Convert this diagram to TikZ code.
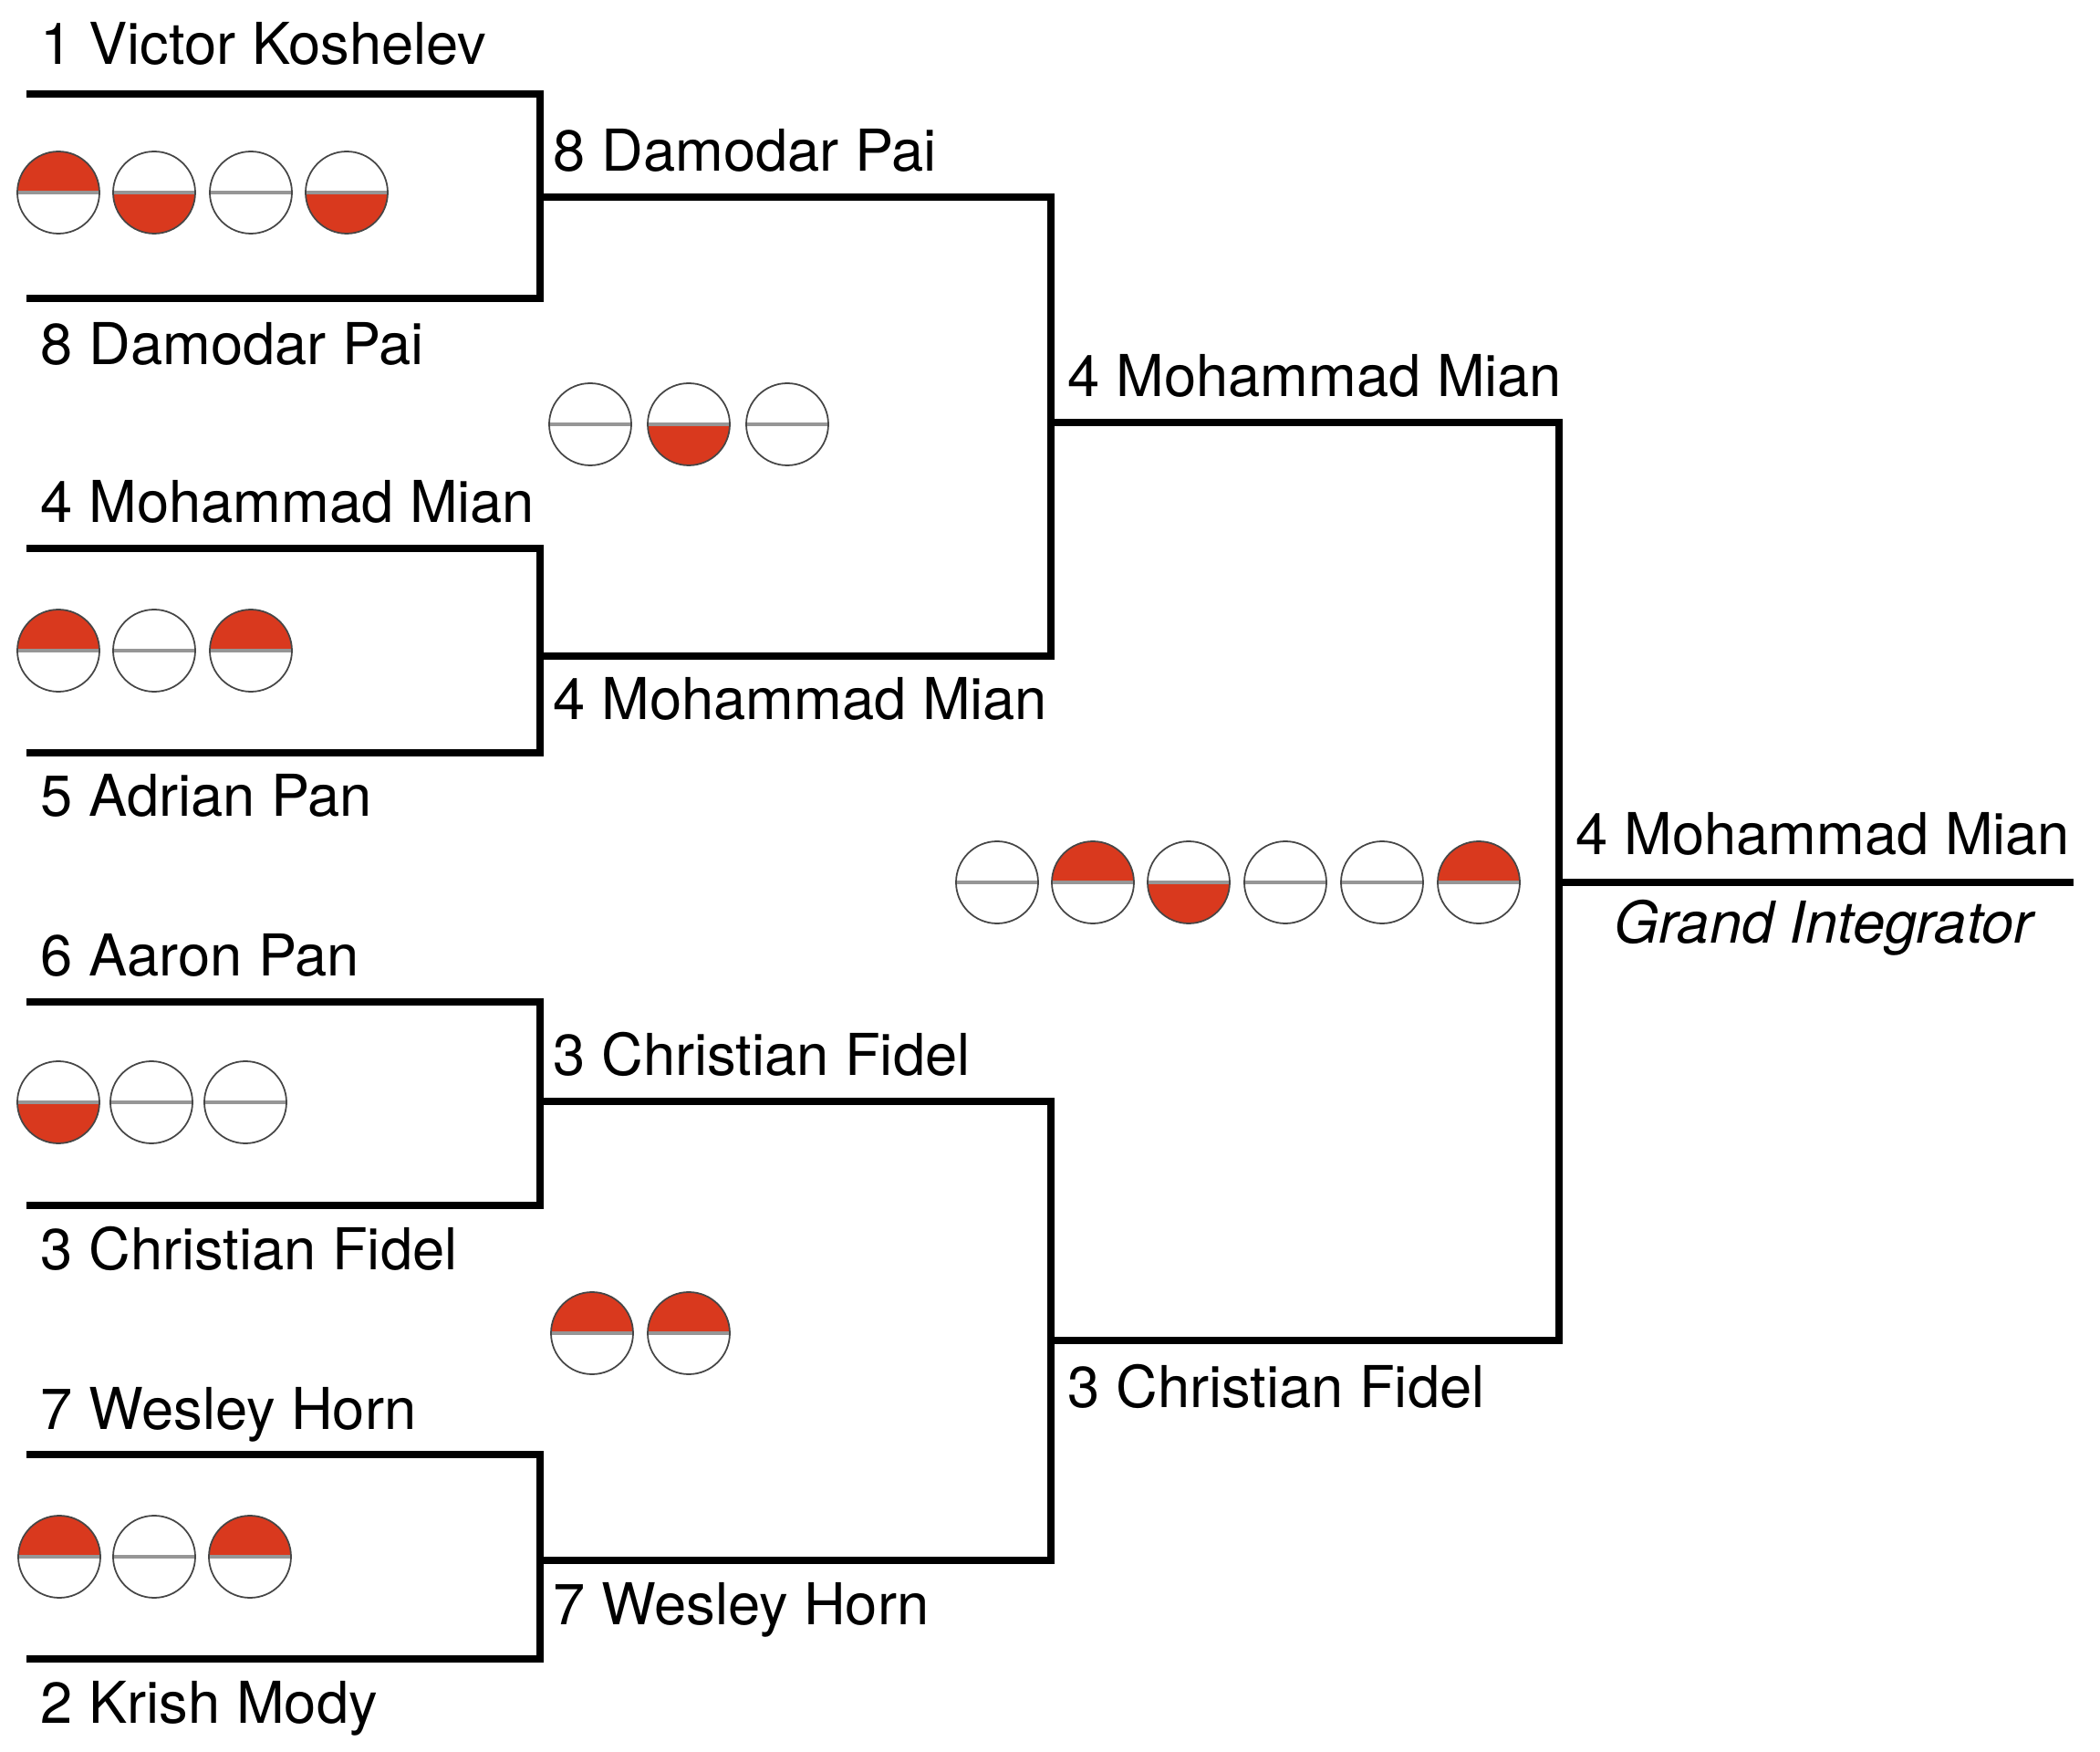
\documentclass[tikz,border=0pt]{standalone}
\usepackage{fontspec}
\setmainfont{TeX Gyre Heros}
\usepackage{tikz}
\usetikzlibrary{positioning}
\definecolor{winRed}{RGB}{217,57,30}
\definecolor{dotEdge}{RGB}{70,70,70}
\definecolor{splitGray}{RGB}{150,150,150}

\begin{document}
\begin{tikzpicture}[
    % Bracket lines
    bracket/.style={draw=black, line width=2.2pt, line join=miter},
    % Player names (left aligned on their line)
    player/.style={anchor=base west, inner sep=0pt,
        font=\fontsize{18}{22}\selectfont},
    % Title under the winner
    champ/.style={anchor=base, inner sep=0pt,
        font=\fontsize{18}{22}\selectfont\itshape},
    % One game: a circle cut in two halves
    dot/.style={circle, draw=dotEdge, line width=0.5pt,
        minimum size=0.9cm, inner sep=0pt},
    gameN/.style={dot, path picture={
        \draw[splitGray, line width=1pt] (path picture bounding box.west)
            -- (path picture bounding box.east);}},
    gameT/.style={dot, path picture={
        \fill[winRed] (path picture bounding box.north west)
            rectangle (path picture bounding box.east);
        \draw[splitGray, line width=1pt] (path picture bounding box.west)
            -- (path picture bounding box.east);}},
    gameB/.style={dot, path picture={
        \fill[winRed] (path picture bounding box.south west)
            rectangle (path picture bounding box.east);
        \draw[splitGray, line width=1pt] (path picture bounding box.west)
            -- (path picture bounding box.east);}}
]
\useasboundingbox (0,0) rectangle (23.02,-19.20);
% ── Round 1 corners ──────────────────────────────────────────
\coordinate (m1tl) at (0.29,-1.03);  \coordinate (m1tr) at (5.92,-1.03);
\coordinate (m1bl) at (0.29,-3.27);  \coordinate (m1br) at (5.92,-3.27);
\coordinate (m2tl) at (0.29,-6.01);  \coordinate (m2tr) at (5.92,-6.01);
\coordinate (m2bl) at (0.29,-8.25);  \coordinate (m2br) at (5.92,-8.25);
\coordinate (m3tl) at (0.29,-10.98); \coordinate (m3tr) at (5.92,-10.98);
\coordinate (m3bl) at (0.29,-13.21); \coordinate (m3br) at (5.92,-13.21);
\coordinate (m4tl) at (0.29,-15.94); \coordinate (m4tr) at (5.92,-15.94);
\coordinate (m4bl) at (0.29,-18.18); \coordinate (m4br) at (5.92,-18.18);
% ── Round 2 corners ──────────────────────────────────────────
\coordinate (m1out) at (5.92,-2.16);  \coordinate (sAt) at (11.52,-2.16);
\coordinate (m2out) at (5.92,-7.19);  \coordinate (sAb) at (11.52,-7.19);
\coordinate (m3out) at (5.92,-12.07); \coordinate (sBt) at (11.52,-12.07);
\coordinate (m4out) at (5.92,-17.10); \coordinate (sBb) at (11.52,-17.10);
% ── Round 3 and final ────────────────────────────────────────
\coordinate (sAout) at (11.52,-4.63);  \coordinate (fTop) at (17.09,-4.63);
\coordinate (sBout) at (11.52,-14.69); \coordinate (fBot) at (17.09,-14.69);
\coordinate (fOut) at (17.09,-9.67);   \coordinate (fEnd) at (22.73,-9.67);
% ── Bracket lines ────────────────────────────────────────────
\draw[bracket] (m1tl) -- (m1tr) -- (m1br) -- (m1bl);
\draw[bracket] (m2tl) -- (m2tr) -- (m2br) -- (m2bl);
\draw[bracket] (m3tl) -- (m3tr) -- (m3br) -- (m3bl);
\draw[bracket] (m4tl) -- (m4tr) -- (m4br) -- (m4bl);
\draw[bracket] (m1out) -- (sAt) -- (sAb) -- (m2out);
\draw[bracket] (m3out) -- (sBt) -- (sBb) -- (m4out);
\draw[bracket] (sAout) -- (fTop) -- (fBot) -- (sBout);
\draw[bracket] (fOut) -- (fEnd);
% ── Round 1 names ────────────────────────────────────────────
\node[player] (p1) at (0.44,-0.71)  {1 Victor Koshelev};
\node[player] (p8) at (0.44,-4.00)  {8 Damodar Pai};
\node[player] (p4) at (0.44,-5.73)  {4 Mohammad Mian};
\node[player] (p5) at (0.44,-8.95)  {5 Adrian Pan};
\node[player] (p6) at (0.44,-10.70) {6 Aaron Pan};
\node[player] (p3) at (0.44,-13.91) {3 Christian Fidel};
\node[player] (p7) at (0.44,-15.66) {7 Wesley Horn};
\node[player] (p2) at (0.44,-18.88) {2 Krish Mody};
% ── Round 2 names ────────────────────────────────────────────
\node[player] (sA8) at (6.06,-1.88)  {8 Damodar Pai};
\node[player] (sA4) at (6.06,-7.89)  {4 Mohammad Mian};
\node[player] (sB3) at (6.06,-11.79) {3 Christian Fidel};
\node[player] (sB7) at (6.06,-17.80) {7 Wesley Horn};
% ── Round 3 names and winner ─────────────────────────────────
\node[player] (f4) at (11.70,-4.35)  {4 Mohammad Mian};
\node[player] (f3) at (11.70,-15.42) {3 Christian Fidel};
\node[player] (win) at (17.27,-9.37) {4 Mohammad Mian};
\node[champ] (winTitle) at (19.99,-10.33) {Grand Integrator};
% ── Games, round 1 ───────────────────────────────────────────
\node[gameT] (g11) at (0.64,-2.11) {};
\node[gameB] (g12) at (1.69,-2.11) {};
\node[gameN] (g13) at (2.75,-2.11) {};
\node[gameB] (g14) at (3.80,-2.11) {};
\node[gameT] (g21) at (0.64,-7.13) {};
\node[gameN] (g22) at (1.69,-7.13) {};
\node[gameT] (g23) at (2.75,-7.13) {};
\node[gameB] (g31) at (0.64,-12.08) {};
\node[gameN] (g32) at (1.66,-12.08) {};
\node[gameN] (g33) at (2.69,-12.08) {};
\node[gameT] (g41) at (0.65,-17.06) {};
\node[gameN] (g42) at (1.69,-17.06) {};
\node[gameT] (g43) at (2.74,-17.06) {};
% ── Games, round 2 ───────────────────────────────────────────
\node[gameN] (gA1) at (6.47,-4.65) {};
\node[gameB] (gA2) at (7.55,-4.65) {};
\node[gameN] (gA3) at (8.63,-4.65) {};
\node[gameT] (gB1) at (6.49,-14.61) {};
\node[gameT] (gB2) at (7.55,-14.61) {};
% ── Games, round 3 ───────────────────────────────────────────
\node[gameN] (gF1) at (10.93,-9.67) {};
\node[gameT] (gF2) at (11.98,-9.67) {};
\node[gameB] (gF3) at (13.03,-9.67) {};
\node[gameN] (gF4) at (14.09,-9.67) {};
\node[gameN] (gF5) at (15.15,-9.67) {};
\node[gameT] (gF6) at (16.21,-9.67) {};
\end{tikzpicture}
\end{document}
